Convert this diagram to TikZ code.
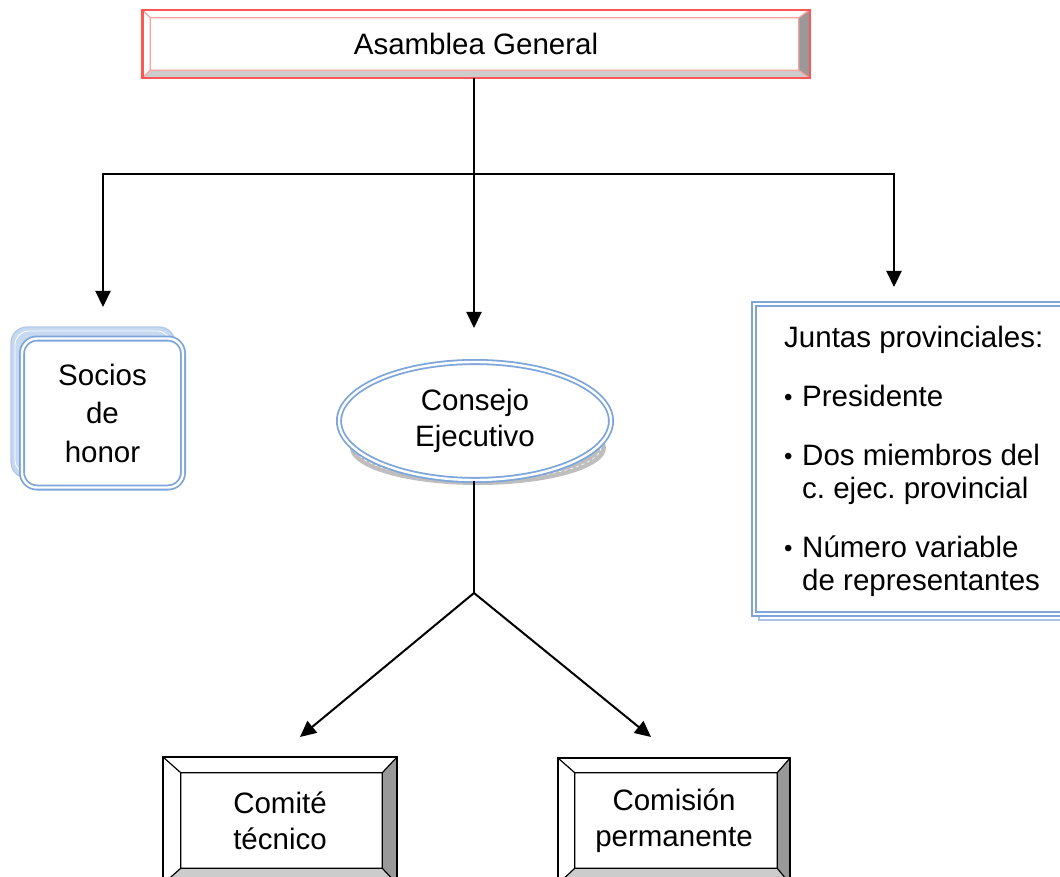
\documentclass[tikz,border=0pt]{standalone}
\usepackage{fontspec}
\setmainfont{Liberation Sans}
\usetikzlibrary{arrows.meta,calc,shapes.geometric,backgrounds}
\frenchspacing

\definecolor{edgered}{RGB}{255,85,85}
\definecolor{edgepink}{RGB}{255,160,160}
\definecolor{bevdark}{RGB}{153,153,153}
\definecolor{bevlight}{RGB}{204,204,204}
\definecolor{blueedge}{RGB}{125,165,218}
\definecolor{bluefill}{RGB}{198,217,241}
\definecolor{shadowgray}{RGB}{190,190,190}

% Bevelled frame behind a node: #1 node, #2..#5 left/top/right/bottom bevel,
% #6 outer edge style, #7 inner edge style
\newcommand\bevelframe[7]{%
  \path (#1.north west) coordinate (#1-o1) (#1.north east) coordinate (#1-o2)
        (#1.south east) coordinate (#1-o3) (#1.south west) coordinate (#1-o4);
  \path ($(#1.north west)+(#2,#3)$) coordinate (#1-i1)
        ($(#1.north east)+(-#4,#3)$) coordinate (#1-i2)
        ($(#1.south east)+(-#4,-#5)$) coordinate (#1-i3)
        ($(#1.south west)+(#2,-#5)$) coordinate (#1-i4);
  \fill[white] (#1-o1) rectangle (#1-o3);
  \fill[bevdark] (#1-o2) -- (#1-i2) -- (#1-i3) -- (#1-o3) -- cycle;
  \fill[bevlight] (#1-o4) -- (#1-i4) -- (#1-i3) -- (#1-o3) -- cycle;
  \draw[#7] (#1-i1) rectangle (#1-i3)
        (#1-o1) -- (#1-i1) (#1-o2) -- (#1-i2) (#1-o3) -- (#1-i3) (#1-o4) -- (#1-i4);
  \draw[#6] (#1-o1) rectangle (#1-o3);
}
% list bullet
\newcommand\smallbullet{\makebox[18pt][l]{\raisebox{1pt}{\fontsize{24}{24}\selectfont\textbullet}}}

\begin{document}
\begin{tikzpicture}[x=1pt,y=-1pt,
  txt/.style={font=\fontsize{29.5}{36}\selectfont, align=center},
  plain/.style={font=\fontsize{29.5}{33}\selectfont, inner sep=0pt, anchor=base west},
  conn/.style={line width=2pt, black},
  arr/.style={conn, -{Triangle[length=16pt,width=15pt]}},
  doubleblue/.style={draw=blueedge, double=white, double distance=2.4pt, line width=1.8pt, fill=white}
]
\useasboundingbox (0,0) rectangle (1060,877);

% main boxes
\node[txt, minimum width=667pt, minimum height=68pt, inner sep=0pt] (asm) at (476,44) {Asamblea General};

\node[txt, doubleblue, rounded corners=15pt, minimum width=161pt, minimum height=149pt,
      inner sep=0pt, font=\fontsize{29.5}{38.5}\selectfont] (soc) at (102.5,413) {Socios\\de\\honor};

\node[txt, doubleblue, ellipse, minimum width=272pt, minimum height=118pt, inner sep=0pt] (ce) at (475,421) {Consejo\\Ejecutivo};

\node[doubleblue, minimum width=316pt, minimum height=310pt, inner sep=0pt] (jp) at (912,459) {};
\node[plain] (j1) at (784,347) {Juntas provinciales:};
\node[plain] (j2) at (784,406) {\smallbullet Presidente};
\node[plain] (j3) at (784,465) {\smallbullet Dos miembros del};
\node[plain] (j4) at (802,498) {c. ejec. provincial};
\node[plain] (j5) at (784,557) {\smallbullet Número variable};
\node[plain] (j6) at (802,590) {de representantes};

\node[txt, minimum width=234pt, minimum height=127pt, inner sep=0pt] (ct) at (280,820.5) {Comité\\técnico};
\node[txt, minimum width=232pt, minimum height=126pt, inner sep=0pt] (cp) at (674,821) {Comisión\\permanente};

% frames and shadows
\begin{scope}[on background layer]
  \bevelframe{asm}{8}{8}{11}{8}{draw=edgered, line width=2.4pt}{draw=edgepink, line width=1.2pt}
  \bevelframe{ct}{18}{16}{15}{16}{draw=black, line width=2pt}{draw=black, line width=1.2pt}
  \bevelframe{cp}{17}{15}{13}{16}{draw=black, line width=2pt}{draw=black, line width=1.2pt}

  \filldraw[fill=bluefill, draw=bluefill!70!blueedge, line width=1.2pt, rounded corners=16pt]
     (11,327) rectangle (175,478);
  \draw[white, line width=0.8pt, rounded corners=14pt] (15,331) rectangle (171,474);

  \fill[shadowgray] (478,448) ellipse [x radius=128pt, y radius=37pt];
  \draw[white, dashed, line width=0.6pt] (478,447) ellipse [x radius=123pt, y radius=33pt];

  \draw[bluefill!60!blueedge, line width=2pt] (759,311) rectangle (1075,620);
\end{scope}

% connectors
\coordinate (t0) at (474,174);
\coordinate (tl) at (103,174);
\coordinate (tr) at (894,174);
\coordinate (al) at (103,307);
\coordinate (ac) at (474,328);
\coordinate (ar) at (894,287);
\coordinate (m0) at (474,593);
\coordinate (bl) at (300,737);
\coordinate (br) at (651,737);

\draw[conn] (asm.south -| t0) -- (t0);
\draw[conn, line cap=rect] (tl) -- (tr);
\draw[arr] (tl) -- (al);
\draw[arr] (t0) -- (ac);
\draw[arr] (tr) -- (ar);
\draw[conn] (ce.south -| m0) -- (m0);
\draw[arr] (m0) -- (bl);
\draw[arr] (m0) -- (br);
\end{tikzpicture}
\end{document}
